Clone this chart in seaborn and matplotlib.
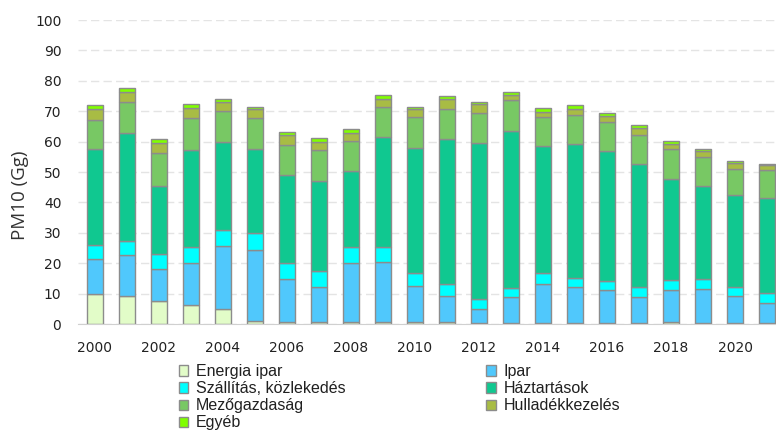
import matplotlib
matplotlib.use("Agg")
import matplotlib.pyplot as plt
from matplotlib.patches import Patch
import numpy as np
import pandas as pd
import seaborn as sns

years = list(range(2000, 2022))
categories = ["Energia ipar", "Ipar", "Szállítás, közlekedés", "Háztartások",
              "Mezőgazdaság", "Hulladékkezelés", "Egyéb"]
colors = ["#e2fcc8", "#50c8fc", "#00ffff", "#10c890", "#78c864", "#a8bc44", "#80ff00"]

energia = [9.8, 9.2, 7.6, 6.3, 4.9, 1.1, 0.8, 0.8, 0.8, 0.8, 0.8,
           0.5, 0.4, 0.4, 0.4, 0.4, 0.4, 0.4, 0.6, 0.2, 0.2, 0.2]
ipar = [11.6, 13.5, 10.4, 13.9, 20.9, 23.2, 14.0, 11.5, 19.2, 19.7, 11.8,
        8.7, 4.5, 8.4, 12.8, 11.7, 10.8, 8.4, 10.6, 11.3, 9.1, 6.8]
szallitas = [4.6, 4.7, 5.0, 5.0, 5.1, 5.5, 5.2, 5.1, 5.2, 4.7, 4.3,
             4.0, 3.3, 2.9, 3.5, 2.9, 3.1, 3.5, 3.3, 3.3, 3.0, 3.3]
haztartasok = [31.6, 35.3, 22.5, 32.0, 28.9, 27.8, 29.0, 29.7, 25.1, 36.2, 41.1,
               47.5, 51.2, 51.9, 41.9, 44.1, 42.6, 40.2, 33.1, 30.7, 30.1, 31.3]
mezogazdasag = [9.5, 10.4, 10.9, 10.4, 10.4, 10.0, 9.9, 10.1, 9.9, 9.9, 10.0,
                9.9, 9.9, 10.1, 9.4, 9.7, 9.4, 9.7, 9.9, 9.5, 8.6, 8.9]
hulladek = [3.5, 3.1, 3.0, 3.5, 2.8, 3.0, 3.3, 2.8, 2.7, 2.8, 2.6,
            3.3, 3.0, 1.6, 1.9, 1.9, 2.1, 2.2, 1.7, 1.9, 2.1, 1.7]
egyeb = [1.4, 1.3, 1.3, 1.3, 1.0, 0.9, 1.1, 1.1, 1.2, 1.2, 0.9,
         1.2, 0.7, 0.9, 1.1, 1.3, 0.9, 0.9, 1.0, 0.6, 0.6, 0.4]

series = [energia, ipar, szallitas, haztartasok, mezogazdasag, hulladek, egyeb]

sns.set_style("white")
plt.rcParams["font.family"] = ["Liberation Sans", "DejaVu Sans"]

fig = plt.figure(figsize=(7.76, 4.32), dpi=100)
ax = fig.add_axes([0.1005, 0.25, 0.8995, 0.7037])

# stacked bars, one seaborn call per sector
bottom = np.zeros(len(years))
for name, vals, col in zip(categories, series, colors):
    df = pd.DataFrame({"year": [str(y) for y in years], "value": vals})
    sns.barplot(data=df, x="year", y="value", color=col, width=0.5,
                edgecolor="#8c8c8c", linewidth=1.0, saturation=1,
                bottom=bottom, ax=ax, errorbar=None)
    bottom += np.array(vals)

ax.set_xlim(-0.53, 21.28)
ax.set_ylim(0, 100)
ax.set_yticks(range(0, 101, 10))
ax.set_xticks(range(0, 22, 2))
ax.set_xticklabels([str(y) for y in years[::2]])
ax.tick_params(axis="both", length=0, colors="#222222")
ax.tick_params(axis="y", pad=12)
ax.tick_params(axis="x", pad=12)
for lbl in ax.get_xticklabels() + ax.get_yticklabels():
    lbl.set_family(["DejaVu Sans"])
    lbl.set_fontsize(10)
ax.set_xlabel("")
ax.set_ylabel("PM10 (Gg)", fontsize=13.5, color="#333333",
              family=["Open Sans", "DejaVu Sans"])
ax.yaxis.set_label_coords(-0.07, 0.424)
ax.yaxis.grid(True, linestyle=(0, (6, 3)), color="#e4e4e4", linewidth=1)
ax.set_axisbelow(True)
for side in ["left", "right", "top"]:
    ax.spines[side].set_visible(False)
ax.spines["bottom"].set_color("#d0d0d0")

handles = [Patch(facecolor=c, edgecolor="#8c8c8c", label=n) for n, c in zip(categories, colors)]
left_idx = [0, 2, 4, 6]
right_idx = [1, 3, 5]
leg_kw = dict(frameon=False, fontsize=11.5, handlelength=0.6, handleheight=0.6,
              handletextpad=0.5, labelspacing=0.13, borderaxespad=0,
              labelcolor="#202020")
fig.legend([handles[i] for i in left_idx], [categories[i] for i in left_idx],
           loc="upper left", bbox_to_anchor=(0.222, 0.172), **leg_kw)
fig.legend([handles[i] for i in right_idx], [categories[i] for i in right_idx],
           loc="upper left", bbox_to_anchor=(0.618, 0.172), **leg_kw)

fig.savefig("out.png", dpi=100)
